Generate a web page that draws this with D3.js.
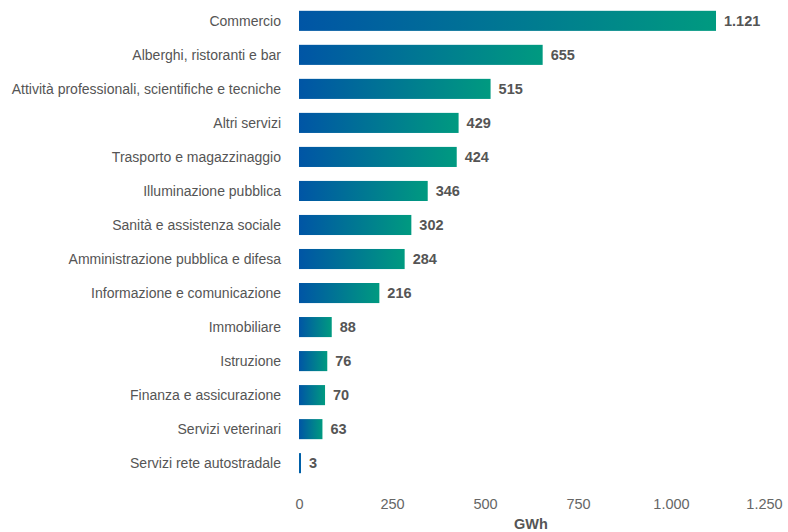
<!DOCTYPE html>
<html><head><meta charset="utf-8">
<script src="https://cdn.jsdelivr.net/npm/d3@7/dist/d3.min.js"></script>
<style>body{margin:0;background:#fff;}svg{display:block;font-family:"Liberation Sans",Arial,sans-serif;}</style>
</head><body>
<svg id="chart" width="788" height="532"></svg>
<script>
const categories = ["Commercio","Alberghi, ristoranti e bar","Attività professionali, scientifiche e tecniche","Altri servizi","Trasporto e magazzinaggio","Illuminazione pubblica","Sanità e assistenza sociale","Amministrazione pubblica e difesa","Informazione e comunicazione","Immobiliare","Istruzione","Finanza e assicurazione","Servizi veterinari","Servizi rete autostradale"];
const values = [1121,655,515,429,424,346,302,284,216,88,76,70,63,3];
const valueLabels = ["1.121","655","515","429","424","346","302","284","216","88","76","70","63","3"];
const tickValues = [0,250,500,750,1000,1250];
const tickLabels = ["0","250","500","750","1.000","1.250"];
const axisTitle = "GWh";

const svg = d3.select("#chart");
const defs = svg.append("defs");
const grad = defs.append("linearGradient").attr("id","g").attr("x1","0").attr("x2","1").attr("y1","0").attr("y2","0");
grad.append("stop").attr("offset","0").attr("stop-color","#0055a5");
grad.append("stop").attr("offset","1").attr("stop-color","#009a80");

const x = d3.scaleLinear().domain([0,1250]).range([299,764]);
const y = d3.scaleBand().domain(categories).range([4,480]).paddingInner(0.41).paddingOuter(0.2);

svg.append("g").selectAll("rect").data(categories).join("rect")
  .attr("x", x(0)).attr("y", d=>y(d)).attr("height", y.bandwidth())
  .attr("width", (d,i)=>Math.max(2, x(values[i])-x(0)))
  .attr("fill", (d,i)=> values[i] < 10 ? "#0060a8" : "url(#g)");

svg.append("g").selectAll("text").data(categories).join("text")
  .attr("x", 281).attr("y", d=>y(d)+y.bandwidth()/2).attr("dy","0.35em")
  .attr("text-anchor","end").attr("fill","#555").style("font-size","14px")
  .text(d=>d);

svg.append("g").selectAll("text").data(categories).join("text")
  .attr("x", (d,i)=>Math.max(x(values[i]), x(0)+2)+8).attr("y", d=>y(d)+y.bandwidth()/2).attr("dy","0.36em")
  .attr("fill","#555").style("font-size","14.5px").style("font-weight","bold")
  .text((d,i)=>valueLabels[i]);

const axis = d3.axisBottom(x).tickValues(tickValues).tickFormat((d,i)=>tickLabels[i]).tickSize(0).tickPadding(0);
const ax = svg.append("g").attr("transform","translate(0,499)").call(axis);
ax.select(".domain").remove();
ax.selectAll("text").attr("fill","#666").style("font-size","14.5px").attr("dy","0.7em").style("font-family","\"Liberation Sans\",Arial,sans-serif");

svg.append("text").attr("x", 531).attr("y", 529).attr("text-anchor","middle")
  .attr("fill","#555").style("font-size","14.5px").style("font-weight","bold").text(axisTitle);
</script>
</body></html>
